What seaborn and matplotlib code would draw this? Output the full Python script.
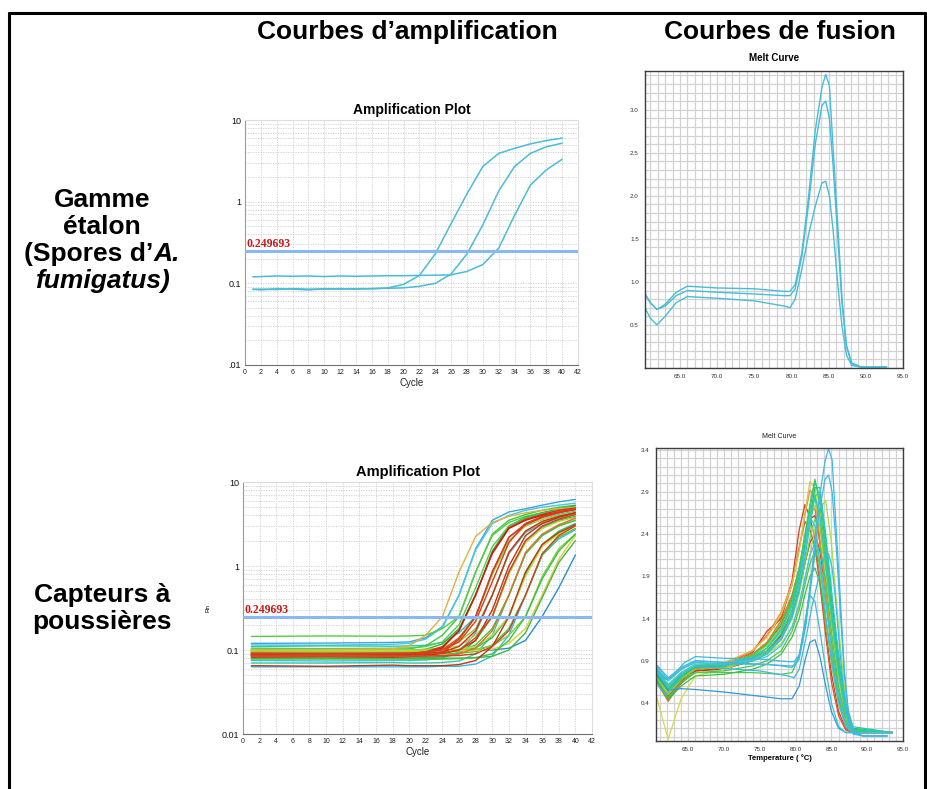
import matplotlib
matplotlib.use("Agg")
import matplotlib.pyplot as plt
import seaborn as sns
import pandas as pd
from matplotlib.lines import Line2D
from matplotlib.ticker import FixedLocator, NullFormatter, MultipleLocator

# ---------------- DATA ----------------
THRESHOLD = 0.249693

# Top: standards, amplification (cycle -> fluorescence)
AMP_STD_CYCLES = [1, 2, 4, 6, 8, 10, 12, 14, 16, 18, 20, 22, 24, 26, 28, 30, 32, 34, 36, 38, 40]
AMP_STD_1 = [0.085, 0.083, 0.086, 0.085, 0.083, 0.086, 0.085, 0.086, 0.086, 0.088, 0.097, 0.125,
             0.23, 0.54, 1.25, 2.7, 3.9, 4.5, 5.1, 5.6, 6.0]
AMP_STD_2 = [0.084, 0.085, 0.084, 0.086, 0.085, 0.085, 0.086, 0.085, 0.086, 0.087, 0.088, 0.092,
             0.10, 0.13, 0.23, 0.52, 1.35, 2.7, 3.9, 4.7, 5.2]
AMP_STD_3 = [0.12, 0.121, 0.123, 0.122, 0.123, 0.121, 0.123, 0.122, 0.123, 0.124, 0.124, 0.125,
             0.126, 0.127, 0.14, 0.17, 0.27, 0.68, 1.6, 2.45, 3.3]

# Top: standards, melt curves (temperature -> derivative)
MELT_STD_TEMPS = [60.3, 61.0, 61.9, 63.0, 64.5, 66.0, 70.0, 75.0, 79.0, 79.8, 80.5, 81.4, 82.3,
                  83.2, 84.1, 84.6, 85.1, 85.6, 86.2, 86.8, 87.4, 88.1, 89.4, 92.8]
MELT_STD_1 = [0.86, 0.76, 0.68, 0.74, 0.88, 0.95, 0.93, 0.92, 0.89, 0.89, 0.97, 1.34, 1.99,
              2.76, 3.26, 3.41, 3.28, 2.55, 1.70, 0.80, 0.26, 0.06, 0.01, 0.01]
MELT_STD_2 = [0.86, 0.76, 0.68, 0.72, 0.84, 0.90, 0.88, 0.86, 0.84, 0.84, 0.92, 1.30, 1.90,
              2.60, 3.05, 3.10, 2.90, 2.35, 1.55, 0.75, 0.25, 0.05, 0.01, 0.01]
MELT_STD_3 = [0.70, 0.58, 0.50, 0.60, 0.76, 0.83, 0.81, 0.78, 0.72, 0.70, 0.80, 1.15, 1.55,
              1.88, 2.15, 2.17, 2.00, 1.60, 1.00, 0.48, 0.15, 0.03, 0.01, 0.01]

# Bottom: dust collectors, amplification
AMP_SAMPLE_CYCLES = [1, 10, 18, 20, 22, 24, 26, 28, 30, 32, 34, 36, 38, 40]
AMP_SAMPLE_VALUES = [
    [0.120, 0.121, 0.123, 0.125, 0.140, 0.19, 0.45, 1.6, 3.5, 4.4, 4.8, 5.3, 5.8, 6.2],
    [0.115, 0.114, 0.117, 0.120, 0.135, 0.185, 0.45, 1.55, 3.2, 4.0, 4.6, 5.0, 5.3, 5.6],
    [0.075, 0.074, 0.075, 0.075, 0.076, 0.080, 0.095, 0.16, 0.45, 1.4, 2.5, 3.2, 3.7, 4.1],
    [0.063, 0.063, 0.063, 0.063, 0.063, 0.064, 0.064, 0.068, 0.085, 0.15, 0.45, 1.35, 2.1, 2.7],
    [0.100, 0.100, 0.100, 0.100, 0.100, 0.100, 0.100, 0.100, 0.100, 0.105, 0.13, 0.25, 0.55, 1.35],
    [0.110, 0.112, 0.111, 0.112, 0.114, 0.123, 0.16, 0.25, 0.80, 2.0, 3.0, 3.6, 4.1, 4.5],
    [0.070, 0.070, 0.071, 0.070, 0.070, 0.071, 0.074, 0.090, 0.15, 0.45, 1.4, 2.3, 3.0, 3.5],
    [0.100, 0.100, 0.101, 0.103, 0.112, 0.150, 0.25, 0.85, 2.4, 3.5, 4.1, 4.6, 5.0, 5.3],
    [0.145, 0.147, 0.146, 0.147, 0.150, 0.180, 0.25, 0.85, 2.3, 3.3, 3.9, 4.3, 4.7, 5.0],
    [0.095, 0.094, 0.096, 0.098, 0.102, 0.118, 0.18, 0.45, 1.5, 3.0, 3.8, 4.3, 4.8, 5.2],
    [0.105, 0.104, 0.105, 0.106, 0.110, 0.125, 0.20, 0.55, 1.7, 3.0, 3.7, 4.2, 4.6, 5.0],
    [0.100, 0.099, 0.100, 0.100, 0.102, 0.106, 0.125, 0.18, 0.45, 1.45, 2.6, 3.3, 3.8, 4.2],
    [0.080, 0.080, 0.081, 0.080, 0.081, 0.083, 0.090, 0.13, 0.25, 0.85, 2.0, 2.9, 3.5, 3.9],
    [0.100, 0.100, 0.100, 0.100, 0.101, 0.104, 0.112, 0.15, 0.25, 0.80, 1.9, 2.8, 3.4, 3.8],
    [0.092, 0.092, 0.092, 0.092, 0.092, 0.093, 0.097, 0.115, 0.18, 0.45, 1.4, 2.3, 3.0, 3.5],
    [0.095, 0.096, 0.095, 0.095, 0.095, 0.095, 0.097, 0.106, 0.14, 0.25, 0.8, 1.8, 2.6, 3.2],
    [0.100, 0.100, 0.100, 0.100, 0.100, 0.100, 0.102, 0.110, 0.15, 0.25, 0.75, 1.7, 2.4, 3.0],
    [0.090, 0.090, 0.090, 0.090, 0.090, 0.090, 0.091, 0.096, 0.115, 0.18, 0.45, 1.35, 2.2, 2.8],
    [0.100, 0.100, 0.100, 0.100, 0.100, 0.100, 0.100, 0.102, 0.112, 0.15, 0.25, 0.75, 1.6, 2.4],
    [0.098, 0.098, 0.098, 0.098, 0.098, 0.098, 0.098, 0.099, 0.102, 0.12, 0.18, 0.45, 1.2, 2.3],
    [0.080, 0.080, 0.080, 0.080, 0.080, 0.080, 0.080, 0.081, 0.084, 0.10, 0.16, 0.42, 1.1, 2.0],
    [0.078, 0.078, 0.078, 0.078, 0.078, 0.078, 0.079, 0.081, 0.090, 0.13, 0.25, 0.70, 1.5, 2.4],
    [0.095, 0.095, 0.096, 0.096, 0.098, 0.105, 0.13, 0.25, 0.8, 2.0, 3.0, 3.6, 4.0, 4.4],
    [0.100, 0.101, 0.103, 0.112, 0.150, 0.25, 0.85, 2.25, 3.3, 3.9, 4.3, 4.6, 4.8, 5.0],
    [0.088, 0.087, 0.089, 0.090, 0.095, 0.110, 0.17, 0.45, 1.45, 2.85, 3.6, 4.1, 4.6, 4.9],
    [0.085, 0.086, 0.085, 0.087, 0.092, 0.106, 0.17, 0.46, 1.4, 2.8, 3.5, 4.0, 4.4, 4.7],
    [0.090, 0.090, 0.090, 0.091, 0.095, 0.101, 0.14, 0.25, 0.85, 2.2, 3.2, 3.8, 4.3, 4.8],
    [0.082, 0.083, 0.082, 0.083, 0.085, 0.092, 0.135, 0.25, 0.85, 2.2, 3.1, 3.8, 4.3, 4.7],
    [0.092, 0.091, 0.092, 0.092, 0.094, 0.100, 0.125, 0.22, 0.65, 1.9, 3.2, 3.9, 4.4, 4.8],
    [0.088, 0.088, 0.088, 0.088, 0.090, 0.095, 0.110, 0.17, 0.45, 1.45, 2.6, 3.4, 3.9, 4.3],
    [0.086, 0.086, 0.087, 0.087, 0.088, 0.091, 0.10, 0.13, 0.30, 1.0, 2.3, 3.2, 3.8, 4.3],
    [0.090, 0.089, 0.090, 0.090, 0.090, 0.092, 0.100, 0.14, 0.25, 0.85, 2.0, 3.0, 3.6, 4.1],
    [0.085, 0.086, 0.085, 0.085, 0.085, 0.086, 0.090, 0.105, 0.17, 0.45, 1.45, 2.4, 3.1, 3.7],
    [0.065, 0.064, 0.066, 0.065, 0.065, 0.065, 0.067, 0.075, 0.11, 0.25, 0.85, 1.8, 2.5, 3.1],
    [0.085, 0.085, 0.085, 0.085, 0.085, 0.085, 0.086, 0.090, 0.110, 0.17, 0.45, 1.4, 2.3, 3.0],
]
AMP_SAMPLE_COLORS = [
    "#38a8dc", "#48c8dc", "#40bce0", "#38b8e0", "#2890d0", "#30c4b0", "#34c8a8",
    "#3cc83c", "#58cc48", "#28b83c", "#50cc50", "#88d040", "#20b848", "#b4d434",
    "#44c444", "#30c050", "#c4d838", "#48c838", "#7cd040", "#d8d040", "#40b840",
    "#3cc040", "#a0d838", "#e0b040", "#d83018", "#c02010", "#e05020", "#d03a1c",
    "#e03818", "#cc3018", "#c83010", "#d84020", "#e07028", "#b83818", "#d04020",
]

# Bottom: dust collectors, melt curves
MELT_SAMPLE_TEMPS = [60.5, 62.2, 64.0, 66.0, 70.0, 74.0, 76.0, 78.0, 79.5, 80.5, 81.3, 82.0,
                     82.7, 83.4, 84.2, 85.0, 86.0, 87.0, 88.0, 93.5]
MELT_SAMPLE_VALUES = [
    [0.68, 0.48, 0.66, 0.78, 0.82, 1.00, 1.25, 1.40, 1.85, 2.45, 2.75, 2.60, 2.35, 1.90, 1.30, 0.75, 0.30, 0.10, 0.05, 0.05],
    [0.72, 0.52, 0.68, 0.80, 0.84, 1.02, 1.20, 1.42, 1.80, 2.25, 2.55, 2.45, 2.25, 1.80, 1.20, 0.65, 0.25, 0.08, 0.05, 0.05],
    [0.68, 0.45, 0.63, 0.78, 0.80, 0.90, 1.00, 1.20, 1.45, 1.75, 2.05, 2.30, 2.40, 2.20, 1.70, 1.15, 0.55, 0.18, 0.06, 0.05],
    [0.70, 0.50, 0.66, 0.80, 0.84, 0.96, 1.10, 1.32, 1.62, 1.95, 2.30, 2.58, 2.62, 2.30, 1.70, 1.10, 0.50, 0.15, 0.05, 0.05],
    [0.66, 0.42, 0.64, 0.80, 0.85, 0.98, 1.12, 1.38, 1.68, 2.00, 2.35, 2.70, 2.70, 2.30, 1.70, 1.10, 0.50, 0.15, 0.05, 0.05],
    [0.70, 0.50, 0.67, 0.82, 0.87, 1.02, 1.20, 1.48, 1.82, 2.22, 2.62, 2.92, 2.85, 2.35, 1.70, 1.05, 0.45, 0.14, 0.05, 0.05],
    [0.70, 0.50, 0.68, 0.84, 0.88, 1.02, 1.18, 1.45, 1.80, 2.20, 2.65, 3.02, 2.95, 2.50, 1.85, 1.20, 0.55, 0.18, 0.06, 0.05],
    [0.50, -0.03, 0.45, 0.72, 0.80, 0.92, 1.05, 1.28, 1.55, 1.90, 2.30, 2.65, 2.90, 2.65, 2.05, 1.40, 0.70, 0.25, 0.07, 0.05],
    [0.72, 0.52, 0.70, 0.83, 0.86, 0.97, 1.08, 1.30, 1.58, 1.92, 2.28, 2.58, 2.74, 2.60, 2.05, 1.45, 0.75, 0.28, 0.08, 0.05],
    [0.72, 0.50, 0.68, 0.80, 0.82, 0.90, 0.98, 1.15, 1.40, 1.70, 2.05, 2.35, 2.58, 2.50, 2.00, 1.40, 0.72, 0.25, 0.07, 0.05],
    [0.74, 0.52, 0.70, 0.82, 0.84, 0.92, 0.98, 1.10, 1.30, 1.55, 1.85, 2.15, 2.45, 2.70, 2.80, 2.30, 1.30, 0.45, 0.10, 0.05],
    [0.75, 0.56, 0.72, 0.84, 0.86, 0.96, 1.08, 1.30, 1.60, 1.95, 2.30, 2.50, 2.40, 1.95, 1.35, 0.85, 0.38, 0.12, 0.05, 0.05],
    [0.74, 0.54, 0.70, 0.83, 0.85, 0.97, 1.10, 1.35, 1.65, 2.00, 2.40, 2.75, 3.05, 2.75, 2.15, 1.50, 0.80, 0.30, 0.08, 0.05],
    [0.76, 0.56, 0.72, 0.82, 0.84, 0.93, 1.02, 1.22, 1.50, 1.85, 2.25, 2.60, 2.95, 2.95, 2.35, 1.65, 0.90, 0.35, 0.10, 0.05],
    [0.70, 0.46, 0.64, 0.76, 0.78, 0.84, 0.90, 1.02, 1.25, 1.50, 1.80, 2.05, 2.20, 2.05, 1.60, 1.10, 0.55, 0.20, 0.06, 0.05],
    [0.72, 0.55, 0.68, 0.76, 0.76, 0.76, 0.75, 0.74, 0.76, 0.95, 1.35, 1.75, 2.15, 2.25, 1.85, 1.25, 0.60, 0.20, 0.06, 0.05],
    [0.66, 0.44, 0.60, 0.72, 0.74, 0.80, 0.86, 0.98, 1.18, 1.40, 1.68, 1.90, 2.00, 1.82, 1.40, 0.95, 0.45, 0.15, 0.05, 0.05],
    [0.78, 0.60, 0.74, 0.84, 0.85, 0.94, 1.05, 1.28, 1.58, 1.95, 2.35, 2.70, 3.02, 2.85, 2.25, 1.55, 0.85, 0.30, 0.09, 0.05],
    [0.75, 0.55, 0.57, 0.56, 0.53, 0.49, 0.47, 0.45, 0.45, 0.60, 0.90, 1.12, 1.15, 0.95, 0.60, 0.30, 0.10, 0.05, 0.05, 0.05],
    [0.85, 0.68, 0.80, 0.88, 0.86, 0.86, 0.86, 0.84, 0.82, 0.95, 1.35, 1.68, 1.60, 1.25, 0.80, 0.40, 0.12, 0.05, 0.05, 0.05],
    [0.80, 0.62, 0.76, 0.86, 0.86, 0.95, 1.05, 1.25, 1.55, 1.90, 2.25, 2.60, 2.85, 2.60, 2.05, 1.45, 0.78, 0.28, 0.08, 0.05],
    [0.82, 0.66, 0.80, 0.88, 0.86, 0.92, 1.00, 1.18, 1.45, 1.80, 2.20, 2.60, 2.50, 2.05, 1.45, 0.90, 0.40, 0.12, 0.05, 0.05],
    [0.78, 0.58, 0.74, 0.84, 0.84, 0.90, 0.98, 1.16, 1.42, 1.75, 2.12, 2.50, 2.85, 2.90, 2.40, 1.75, 0.98, 0.40, 0.12, 0.05],
    [0.86, 0.70, 0.82, 0.90, 0.88, 0.90, 0.95, 1.08, 1.30, 1.58, 1.88, 2.15, 2.30, 2.10, 1.60, 1.05, 0.50, 0.16, 0.05, 0.05],
]
MELT_SAMPLE_COLORS = [
    "#d83a20", "#e05028", "#d03018", "#c83820", "#e07028", "#e89030",
    "#e0c040", "#d8d848", "#b0d838", "#80d040", "#a8dc40", "#90d848",
    "#40c840", "#28c060", "#48c848", "#50c850", "#38c048",
    "#30c890", "#3098d8", "#38c0d8", "#30c8b0", "#40c4dc", "#28c8c0", "#48c0e0",
]
STD_COLOR = "#48bcd8"

# ---------------- FIGURE ----------------
sns.set_theme(style="white")
plt.rcParams["font.family"] = ["Liberation Sans", "DejaVu Sans"]
plt.rcParams["text.color"] = "black"
plt.rcParams["axes.labelcolor"] = "black"
plt.rcParams["xtick.color"] = "black"
plt.rcParams["ytick.color"] = "black"

W, H = 927, 789
fig = plt.figure(figsize=(W / 100, H / 100), dpi=100)


def ax_px(l, t, r, b):
    return fig.add_axes([l / W, 1 - b / H, (r - l) / W, (b - t) / H])


def long_df(xs, curves):
    rows = []
    for i, ys in enumerate(curves):
        for x, y in zip(xs, ys):
            rows.append((x, y, i))
    return pd.DataFrame(rows, columns=["x", "y", "curve"])


def draw(ax, xs, curves, colors, lw):
    df = long_df(xs, curves)
    pal = {i: c for i, c in enumerate(colors)}
    sns.lineplot(data=df, x="x", y="y", hue="curve", palette=pal, estimator=None,
                 sort=False, legend=False, linewidth=lw, ax=ax)
    ax.set_xlabel("")
    ax.set_ylabel("")


def style_amp(ax, ylabels):
    ax.set_yscale("log")
    ax.set_xlim(0, 42)
    ax.set_ylim(0.01, 10)
    ax.set_xticks(range(0, 43, 2))
    ax.set_xticklabels([str(v) for v in range(0, 43, 2)])
    ax.set_yticks([0.01, 0.1, 1, 10])
    ax.set_yticklabels(ylabels)
    ax.yaxis.set_minor_locator(FixedLocator([m * 10.0 ** e for e in (-2, -1, 0) for m in range(2, 10)]))
    ax.yaxis.set_minor_formatter(NullFormatter())
    ax.grid(True, which="both", axis="y", color="#cdcdcd", linestyle=(0, (1.5, 1.5)), linewidth=0.6)
    ax.grid(True, which="major", axis="x", color="#cdcdcd", linestyle=(0, (1.5, 1.5)), linewidth=0.6)
    for s in ("top", "right"):
        ax.spines[s].set_color("#dcdcdc")
    ax.spines["left"].set_color("#9a9a9a")
    ax.spines["bottom"].set_color("#707070")
    for s in ax.spines.values():
        s.set_linewidth(0.8)
    ax.tick_params(axis="x", labelsize=5, length=2, width=0.5, color="#777777", pad=1, labelcolor="#222222")
    ax.tick_params(axis="y", which="major", labelsize=6.5, length=2, width=0.5, color="#777777", pad=1, labelcolor="#111111")
    ax.tick_params(axis="y", which="minor", length=0)
    ax.axhline(THRESHOLD, color="#8ab8f2", linewidth=2.2, zorder=5)
    ax.text(0.15, THRESHOLD * 1.03, f"{THRESHOLD:.6f}", color="#c81818", fontsize=8.5,
            family=["Liberation Serif", "DejaVu Serif"], fontweight="bold", ha="left", va="bottom", zorder=6)
    ax.set_xlabel("Cycle", fontsize=7, labelpad=1.5, color="#222222")


def style_melt(ax, ylim, yticks, ylabels, xlim):
    ax.set_xlim(*xlim)
    ax.set_ylim(*ylim)
    ax.set_xticks([65, 70, 75, 80, 85, 90, 95])
    ax.set_xticklabels(["65.0", "70.0", "75.0", "80.0", "85.0", "90.0", "95.0"])
    ax.xaxis.set_minor_locator(MultipleLocator(1))
    ax.set_yticks(yticks)
    ax.set_yticklabels(ylabels)
    ax.yaxis.set_minor_locator(MultipleLocator(0.1))
    ax.grid(True, which="both", color="#d2d2d2", linewidth=0.9, linestyle="-")
    for s in ax.spines.values():
        s.set_color("#3c3c3c")
        s.set_linewidth(1.0)
    ax.tick_params(which="both", direction="out", length=2.5, width=0.5, color="#999999",
                   labelsize=4.5, pad=2, labelcolor="#333333")


# Top-left: amplification standards
ax1 = ax_px(245, 120, 578, 365)
draw(ax1, AMP_STD_CYCLES, [AMP_STD_3, AMP_STD_2, AMP_STD_1], [STD_COLOR] * 3, 1.1)
style_amp(ax1, [".01", "0.1", "1", "10"])
ax1.set_title("Amplification Plot", fontsize=10, fontweight="bold", pad=4, color="black")

# Top-right: melt standards
ax2 = ax_px(645, 71, 903, 368)
draw(ax2, MELT_STD_TEMPS, [MELT_STD_3, MELT_STD_2, MELT_STD_1], [STD_COLOR] * 3, 1.0)
style_melt(ax2, (0, 3.45), [0.5, 1.0, 1.5, 2.0, 2.5, 3.0],
           ["0.5", "1.0", "1.5", "2.0", "2.5", "3.0"], (60.3, 95))
ax2.set_title("Melt Curve", fontsize=7, fontweight="bold", pad=7, color="black")

# Bottom-left: amplification samples
ax3 = ax_px(243, 482, 592, 734)
draw(ax3, AMP_SAMPLE_CYCLES, AMP_SAMPLE_VALUES, AMP_SAMPLE_COLORS, 1.0)
style_amp(ax3, ["0.01", "0.1", "1", "10"])
ax3.set_ylabel("Rn", fontsize=4.5, labelpad=8)
ax3.set_title("Amplification Plot", fontsize=10.5, fontweight="bold", pad=4, color="black")

# Bottom-right: melt samples (+ standards)
ax4 = ax_px(656, 448, 903, 741)
draw(ax4, MELT_SAMPLE_TEMPS, MELT_SAMPLE_VALUES, MELT_SAMPLE_COLORS, 0.9)
for ys in (MELT_STD_3, MELT_STD_2, MELT_STD_1):
    sns.lineplot(x=MELT_STD_TEMPS, y=ys, color="#40b8e0", linewidth=0.9, ax=ax4, legend=False)
style_melt(ax4, (-0.05, 3.42), [0.4, 0.9, 1.4, 1.9, 2.4, 2.9, 3.4],
           ["0.4", "0.9", "1.4", "1.9", "2.4", "2.9", "3.4"], (60.5, 95))
ax4.set_title("Melt Curve", fontsize=5, pad=7, color="#222222")
ax4.set_xlabel("Temperature ( °C)", fontsize=5.5, fontweight="bold", labelpad=1)

# ---------------- ANNOTATIONS ----------------
def fx(px):
    return px / W


def fy(py):
    return 1 - py / H


fig.text(fx(407), fy(32), "Courbes d’amplification", fontsize=19, fontweight="bold",
         ha="center", va="center", color="black")
fig.text(fx(780), fy(32), "Courbes de fusion", fontsize=19, fontweight="bold",
         ha="center", va="center", color="black")

CX = 102
fig.text(fx(CX), fy(207), "Gamme", fontsize=19, fontweight="bold", ha="center", va="baseline")
fig.text(fx(CX), fy(234), "étalon", fontsize=19, fontweight="bold", ha="center", va="baseline")
fig.text(fx(CX), fy(288), "fumigatus)", fontsize=19, fontweight="bold", style="italic",
         ha="center", va="baseline")
# mixed roman / italic line
t_a = fig.text(0, fy(261), "(Spores d’", fontsize=19, fontweight="bold", ha="left", va="baseline")
t_b = fig.text(0, fy(261), "A.", fontsize=19, fontweight="bold", style="italic", ha="left", va="baseline")
fig.canvas.draw()
r = fig.canvas.get_renderer()
wa = t_a.get_window_extent(r).width
wb = t_b.get_window_extent(r).width
x0 = CX - (wa + wb) / 2
t_a.set_x(fx(x0))
t_b.set_x(fx(x0 + wa))

fig.text(fx(CX), fy(602), "Capteurs à", fontsize=19, fontweight="bold", ha="center", va="baseline")
fig.text(fx(CX), fy(629), "poussières", fontsize=19, fontweight="bold", ha="center", va="baseline")

# frame (open at the bottom)
for xs_, ys_ in (([9, 9], [13, H + 5]), ([9, 925], [13, 13]), ([925, 925], [13, H + 5])):
    fig.add_artist(Line2D([fx(v) for v in xs_], [fy(v) for v in ys_], color="black",
                          linewidth=2.2, transform=fig.transFigure))

fig.savefig("out.png", dpi=100)
